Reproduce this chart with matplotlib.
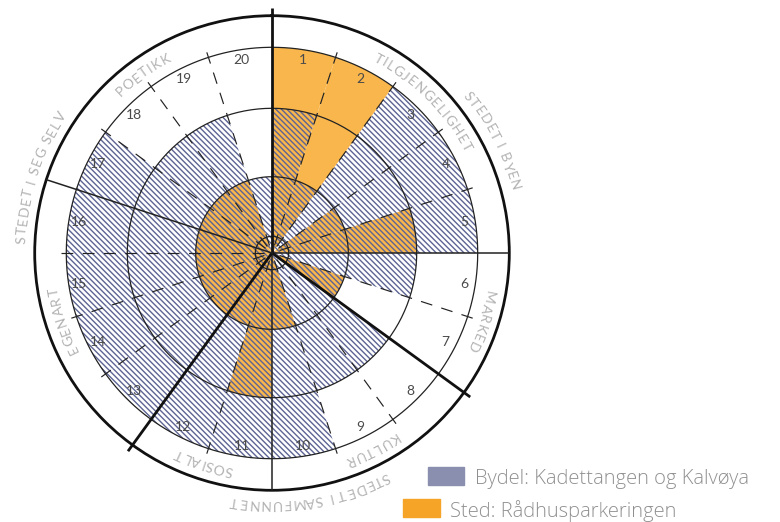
import numpy as np
import matplotlib.pyplot as plt
from matplotlib.patches import Rectangle
from matplotlib.font_manager import FontProperties, findfont, get_font

plt.rcParams['font.family'] = ['Lato', 'DejaVu Sans']
plt.rcParams['hatch.linewidth'] = 1.0

# Data: 20 criteria, level 0-3 for each of the two places
sectors = [str(i) for i in range(1, 21)]
bydel = [2, 1, 3, 3, 3, 2, 1, 2, 2, 3, 3, 3, 3, 3, 3, 3, 3, 2, 2, 1]
sted = [3, 3, 0, 1, 2, 0, 1, 0, 0, 1, 2, 1, 1, 1, 1, 1, 1, 1, 1, 0]

# categories as (label, first sector, last sector)
inner_cats = [('TILGJENGELIGHET', 1, 5), ('MARKED', 6, 7), ('KULTUR', 8, 10),
              ('SOSIALT', 11, 12), ('EGENART', 13, 16), ('POETIKK', 17, 20)]
outer_cats = [('STEDET I BYEN', 1, 7), ('STEDET I SAMFUNNET', 8, 12),
              ('STEDET I SEG SELV', 13, 20)]

legend_labels = ['Bydel: Kadettangen og Kalvøya', 'Sted: Rådhusparkeringen']

DPI = 100
W, H = 780, 522
cx, cy, R = 272, 253, 237.3

# radial scale: levels -> pixel radius (rings are not evenly spaced)
lev_pts = [0, 1, 2, 3, 4]
px_pts = [0, 76.3, 144.7, 205.7, 268.9]


def fwd(r):
    return np.interp(r, lev_pts, px_pts)


def inv(p):
    return np.interp(p, px_pts, lev_pts)


fig = plt.figure(figsize=(W / DPI, H / DPI), dpi=DPI)
ax = fig.add_axes([(cx - R) / W, 1 - (cy + R) / H, 2 * R / W, 2 * R / H],
                  projection='polar')
ax.set_theta_zero_location('N')
ax.set_theta_direction(-1)
ax.set_rscale('function', functions=(fwd, inv))
ax.set_rlim(0, 3.5)
ax.grid(False)
ax.set_xticks([])
ax.set_yticks([])
ax.spines['polar'].set_linewidth(2)
ax.spines['polar'].set_color('#111111')

n = len(sectors)
step = 2 * np.pi / n
theta = np.arange(n) * step + step / 2

# orange first, hatch on top
ax.bar(theta, sted, width=step, bottom=0, color='#f8b64c', linewidth=0, zorder=1)
ax.bar(theta, bydel, width=step, bottom=0, facecolor='none',
       edgecolor='#5d6494', linewidth=0, hatch='\\' * 6, zorder=2)

# rings
tt = np.linspace(0, 2 * np.pi, 400)
for lv in [inv(16.7), 1, 2, 3]:
    ax.plot(tt, np.full_like(tt, lv), color='#222222', lw=0.9, zorder=3)

# boundaries
top_lvl = [0, 7, 12]
sub_lvl = [5, 10, 16]
for k in range(n):
    th = k * step
    if k in top_lvl:
        ax.plot([th, th], [0, inv(245)], color='#111111', lw=2.0,
                zorder=4, clip_on=False, solid_capstyle='butt')
    elif k in sub_lvl:
        ax.plot([th, th], [0, 3.5], color='#222222', lw=1.1, zorder=4)
    else:
        ax.plot([th, th], [inv(211), 0], color='#222222', lw=0.85,
                ls=(0, (10, 8)), zorder=4)

# sector numbers
for i, s in enumerate(sectors):
    ax.text(theta[i], inv(195), s, ha='center', va='center', fontsize=10,
            color='#4a4a4a', zorder=5)

# curved category labels
LSIZE = 10
fp = FontProperties(family='Lato', size=LSIZE)
font = get_font(findfont(fp))
font.set_size(LSIZE, 72)
k_px = DPI / 72
track = 1.0


def glyph(ch):
    g = font.load_char(ord(ch))
    a = g.linearHoriAdvance / 65536 * k_px
    ink = (g.horiBearingX + g.width / 2) / 64 * k_px if g.width else a / 2
    return a + track, ink


def curved(text, ang0, r_px):
    gs = [glyph(c) for c in text]
    total = sum(a for a, _ in gs) - track
    pos = -total / 2
    for c, (a, ink) in zip(text, gs):
        mid = pos + ink
        pos += a
        if c == ' ':
            continue
        ang = ang0 + np.degrees(mid / r_px)
        ax.text(np.deg2rad(ang), inv(r_px), c, ha='center', va='center',
                rotation=-ang, rotation_mode='anchor', fontproperties=fp,
                color='#b2b2b2', zorder=5)


for lab, a, b in inner_cats:
    curved(lab, (a - 1 + b) / 2 * 18, 221)
for lab, a, b in outer_cats:
    curved(lab, (a - 1 + b) / 2 * 18, 251)

# legend
leg_font = FontProperties(family=['Open Sans', 'Lato'], weight='light', size=14.5)
fig.add_artist(Rectangle((428 / W, 1 - 485 / H), 36 / W, 18 / H,
                         transform=fig.transFigure, color='#8a8fb0'))
fig.add_artist(Rectangle((403 / W, 1 - 517 / H), 37 / W, 18 / H,
                         transform=fig.transFigure, color='#f6a428'))
fig.text(475 / W, 1 - 484 / H, legend_labels[0], va='baseline',
         fontproperties=leg_font, color='#909090')
fig.text(450 / W, 1 - 516.5 / H, legend_labels[1], va='baseline',
         fontproperties=leg_font, color='#909090')

fig.savefig('out.png', dpi=DPI)
